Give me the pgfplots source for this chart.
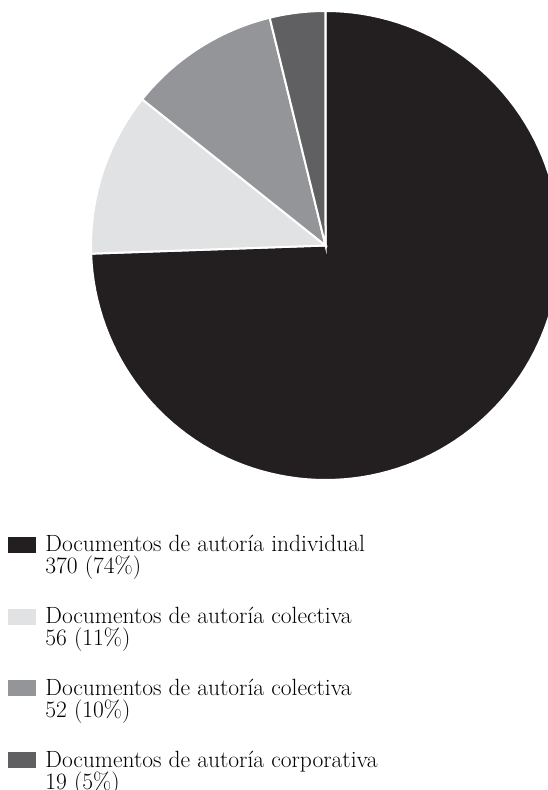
\documentclass[border=0pt]{standalone}
\usepackage{fontspec}
\setmainfont{Latin Modern Roman}
\usepackage{pgfplots}
\pgfplotsset{compat=1.18}
\definecolor{cInd}{HTML}{231F20}
\definecolor{cCol}{HTML}{E1E2E3}
\definecolor{cColB}{HTML}{939598}
\definecolor{cCorp}{HTML}{606062}
\begin{document}
\begin{tikzpicture}
% values
\def\vInd{370}\def\vCol{56}\def\vColB{52}\def\vCorp{19}
\pgfmathsetmacro\total{\vInd+\vCol+\vColB+\vCorp}
% slices run clockwise from the top
\pgfmathsetmacro\aA{90-\vInd/\total*360}
\pgfmathsetmacro\aB{\aA-\vCol/\total*360}
\pgfmathsetmacro\aC{\aB-\vColB/\total*360}
\pgfmathsetmacro\aD{\aC-\vCorp/\total*360}
\def\cx{325.5}\def\cy{544.5}\def\r{234.5}
\useasboundingbox (0,0) rectangle (548pt,790pt);
\begin{axis}[
    x=1pt, y=1pt,
    xmin=0, xmax=548, ymin=0, ymax=790,
    hide axis,
    clip=true,
    legend style={at={(axis cs:8,254)}, anchor=north west, draw=none, fill=none,
        inner sep=0pt, outer sep=0pt, column sep=10pt, row sep=0pt,
        font=\fontsize{23.5}{22}\selectfont,
        nodes={inner sep=0pt, text height=16pt, text depth=6pt}},
    legend cell align=left,
    swatch/.style={legend image code/.code={\fill[#1] (0pt,-5pt) rectangle (27pt,10pt);}},
    gap/.style={legend image code/.code={\path[draw=none, fill=none] (0pt,-14pt) rectangle (0pt,13.7pt);}},
]
\addplot[fill=cInd, draw=white, line width=2pt, domain=\aA:90, samples=120, variable=\t, forget plot]
    ({\cx+\r*cos(\t)}, {\cy+\r*sin(\t)}) -- (axis cs:\cx,\cy) -- cycle;
\addplot[fill=cCol, draw=white, line width=2pt, domain=\aB:\aA, samples=30, variable=\t, forget plot]
    ({\cx+\r*cos(\t)}, {\cy+\r*sin(\t)}) -- (axis cs:\cx,\cy) -- cycle;
\addplot[fill=cColB, draw=white, line width=2pt, domain=\aC:\aB, samples=30, variable=\t, forget plot]
    ({\cx+\r*cos(\t)}, {\cy+\r*sin(\t)}) -- (axis cs:\cx,\cy) -- cycle;
\addplot[fill=cCorp, draw=white, line width=2pt, domain=\aD:\aC, samples=15, variable=\t, forget plot]
    ({\cx+\r*cos(\t)}, {\cy+\r*sin(\t)}) -- (axis cs:\cx,\cy) -- cycle;

\addlegendimage{swatch=cInd}
\addlegendentry{Documentos de autoría individual}
\addlegendimage{empty legend}\addlegendentry{370 (74\%)}
\addlegendimage{gap}\addlegendentry{}
\addlegendimage{swatch=cCol}
\addlegendentry{Documentos de autoría colectiva}
\addlegendimage{empty legend}\addlegendentry{56 (11\%)}
\addlegendimage{gap}\addlegendentry{}
\addlegendimage{swatch=cColB}
\addlegendentry{Documentos de autoría colectiva}
\addlegendimage{empty legend}\addlegendentry{52 (10\%)}
\addlegendimage{gap}\addlegendentry{}
\addlegendimage{swatch=cCorp}
\addlegendentry{Documentos de autoría corporativa}
\addlegendimage{empty legend}\addlegendentry{19 (5\%)}
\end{axis}
\end{tikzpicture}
\end{document}
